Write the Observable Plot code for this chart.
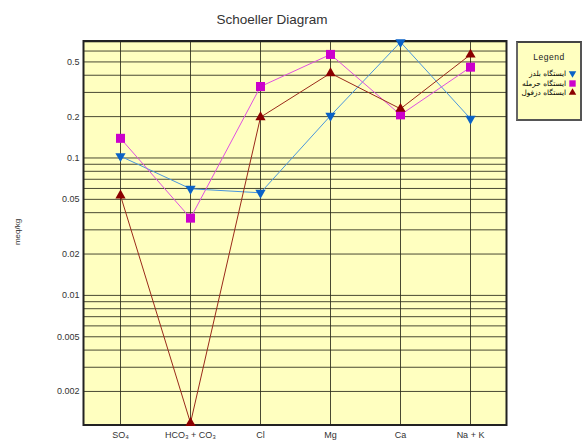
<!DOCTYPE html>
<html>
<head>
<meta charset="utf-8">
<script src="https://cdn.jsdelivr.net/npm/d3@7"></script>
<script src="https://cdn.jsdelivr.net/npm/@observablehq/plot@0.6"></script>
<style>
  body { margin: 0; background: #fff; }
  #wrap { position: relative; width: 584px; height: 441px; overflow: hidden; font-family: "Liberation Sans", Arial, sans-serif; }
  #title { position: absolute; left: 172px; width: 200px; top: 12px; text-align: center; font-size: 13.5px; color: #333; }
  #ylab { position: absolute; left: 17px; top: 232px; font-size: 8px; color: #333; transform: translate(-50%, -50%) rotate(-90deg); white-space: nowrap; }
  #legend { position: absolute; left: 516px; top: 41px; width: 62px; height: 76px; background: #ffffc0; border: 2px solid #555; border-top-color: #444; border-left-color: #666; }
  #legend .hd { text-align: center; font-size: 8.5px; color: #222; margin-top: 9px; margin-bottom: 7px; letter-spacing: 0.5px; }
  #legend .row { display: flex; justify-content: flex-end; align-items: center; height: 9.5px; padding-right: 3px; white-space: nowrap; }
  #legend .row span { font-family: "DejaVu Sans", sans-serif; font-size: 7.3px; color: #000; direction: rtl; margin-right: 2px; white-space: nowrap; }
  #legend .row svg { flex: none; }
  #chart { position: absolute; left: 0; top: 0; }
</style>
</head>
<body>
<div id="wrap">
  <div id="chart"></div>
  <div id="title">Schoeller Diagram</div>
  <div id="ylab">meq/kg</div>
  <div id="legend"><div class="hd">Legend</div><div id="rows"></div></div>
</div>
<script>
const categories = ["SO₄", "HCO₃ + CO₃", "Cl", "Mg", "Ca", "Na + K"];
const seriesNames = ["ایستگاه بلدز", "ایستگاه حرمله", "ایستگاه دزفول"];
const blueValues = [0.103, 0.0597, 0.0558, 0.203, 0.697, 0.193];
const magentaValues = [0.139, 0.0365, 0.331, 0.567, 0.206, 0.458];
const redValues = [0.0533, 0.00118, 0.198, 0.414, 0.228, 0.565];
const yTickLabels = [0.002, 0.005, 0.01, 0.02, 0.05, 0.1, 0.2, 0.5];
const yGridValues = [0.002, 0.003, 0.004, 0.005, 0.006, 0.007, 0.008, 0.009,
  0.01, 0.02, 0.03, 0.04, 0.05, 0.06, 0.07, 0.08, 0.09,
  0.1, 0.2, 0.3, 0.4, 0.5, 0.6, 0.7];
const yDomain = [0.00114, 0.71];

const styles = [
  {line: "#4a96dc", fill: "#0a62c6", symbol: "triangle", rotate: 180, r: 3.8},
  {line: "#e050e0", fill: "#cc00cc", symbol: "square", rotate: 0, r: 5.1},
  {line: "#9a2a1a", fill: "#8b0000", symbol: "triangle", rotate: 0, r: 3.8}
];
const allValues = [blueValues, magentaValues, redValues];
const rows = [];
allValues.forEach((vals, s) => vals.forEach((v, i) => rows.push({cat: categories[i], value: v, series: s})));

const marks = [
  Plot.frame({fill: "#ffffc0", stroke: null}),
  Plot.ruleY(yGridValues, {stroke: "#2a2a1a", strokeWidth: 1, strokeOpacity: 0.85}),
  Plot.ruleX(categories, {stroke: "#2a2a1a", strokeWidth: 1, strokeOpacity: 0.85}),
  Plot.frame({stroke: "#222", strokeWidth: 2})
];
styles.forEach((st, s) => {
  const d = rows.filter(r => r.series === s);
  marks.push(Plot.line(d, {x: "cat", y: "value", stroke: st.line, strokeWidth: 1}));
});
styles.forEach((st, s) => {
  const d = rows.filter(r => r.series === s);
  marks.push(Plot.dot(d, {x: "cat", y: "value", symbol: () => st.symbol, fill: st.fill, stroke: "none", r: st.r, rotate: st.rotate}));
});
marks.push(Plot.text(yTickLabels, {y: d => d, frameAnchor: "left", textAnchor: "end", dx: -4, text: d => String(d), fontSize: 9, fill: "#333"}));
marks.push(Plot.axisX({tickSize: 0, tickPadding: 7, fontSize: 9, fill: "#333", label: null}));

const chart = Plot.plot({
  width: 584,
  height: 441,
  marginLeft: 83,
  marginRight: 78,
  marginTop: 40.5,
  marginBottom: 16.5,
  style: {fontFamily: "Liberation Sans, Arial, sans-serif", background: "transparent"},
  x: {type: "point", domain: categories, padding: 0.5},
  y: {type: "log", domain: yDomain, axis: null},
  symbol: {type: "identity"},
  marks
});
document.getElementById("chart").appendChild(chart);

const rowsDiv = document.getElementById("rows");
seriesNames.forEach((name, s) => {
  const st = styles[s];
  const row = document.createElement("div");
  row.className = "row";
  const span = document.createElement("span");
  span.textContent = name;
  row.appendChild(span);
  const sym = d3.create("svg").attr("width", 9).attr("height", 9);
  const size = Math.PI * (s === 1 ? 3.6 : 2.8) ** 2;
  sym.append("path")
    .attr("d", d3.symbol(s === 1 ? d3.symbolSquare : d3.symbolTriangle, size)())
    .attr("transform", `translate(4.5,4.5) rotate(${st.rotate})`)
    .attr("fill", st.fill);
  row.appendChild(sym.node());
  rowsDiv.appendChild(row);
});
</script>
</body>
</html>
